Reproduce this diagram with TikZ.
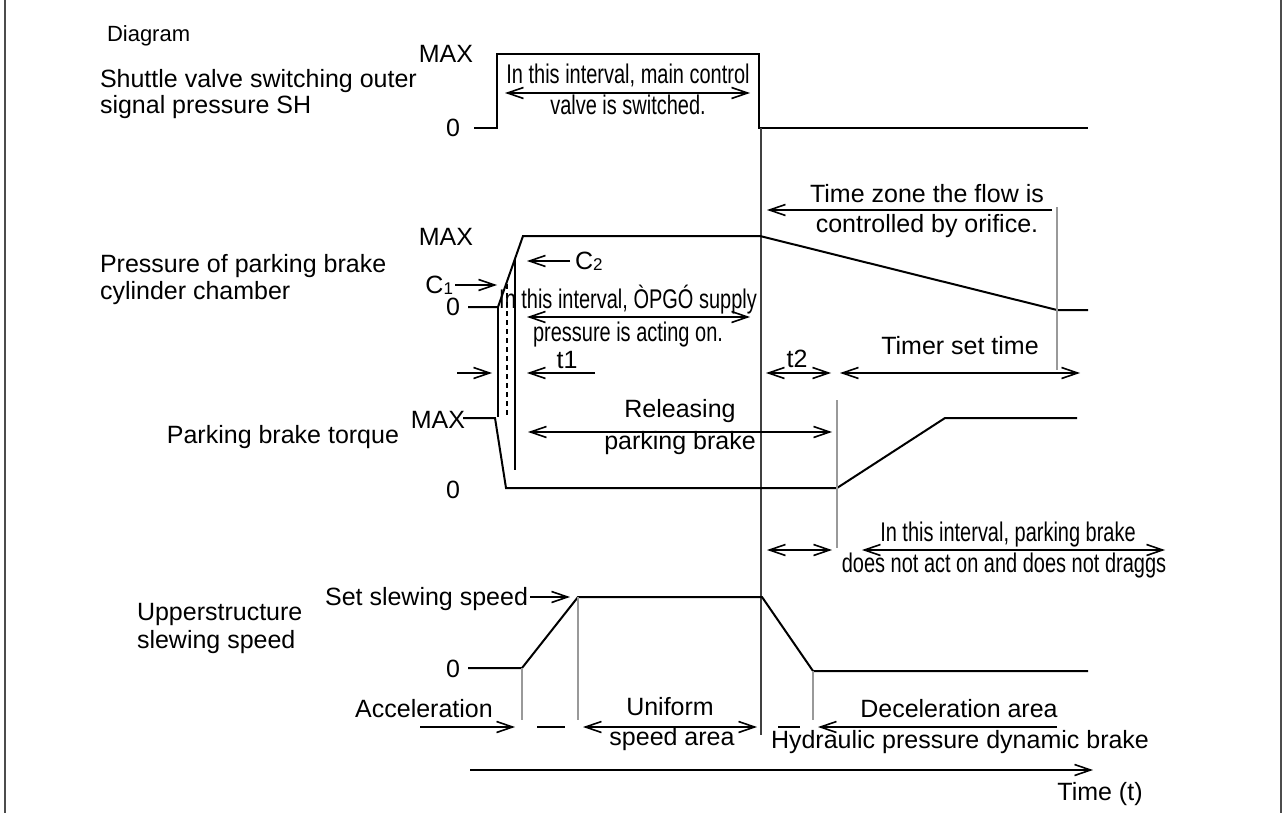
\documentclass[tikz,border=0pt]{standalone}
\usepackage{fontspec}
\setmainfont{Liberation Sans}
\newfontfamily\condensedfont{Liberation Sans}[FakeStretch=0.74]
\usetikzlibrary{arrows.meta}

\newcommand\labelsize{\fontsize{25}{27}\selectfont}
\newcommand\titlesize{\fontsize{22}{24}\selectfont}
\newcommand\condsize{\condensedfont\fontsize{27}{30}\selectfont}
\newcommand\lowidx[1]{{\fontsize{17}{17}\selectfont\raisebox{-1pt}{#1}}}

\begin{document}
\begin{tikzpicture}[x=1pt,y=-1pt,
  every node/.style={inner sep=0pt,outer sep=0pt},
  lab/.style={font=\labelsize},
  cond/.style={font=\condsize},
  trace/.style={line width=2pt,line join=miter},
  guide/.style={line width=1.2pt,draw=black!40},
  mainguide/.style={line width=1.2pt,draw=black!75},
  startline/.style={line width=2pt},
  frame/.style={line width=2pt,draw=black!70},
  >={Straight Barb[length=16pt,width=11pt]},
  sarrow/.style={line width=1.6pt,->},
  darrow/.style={line width=1.6pt,<->},
  seg/.style={line width=1.6pt}]

\useasboundingbox (0,0) rectangle (1284,813);

% page frame
\coordinate (fl1) at (5,0);    \coordinate (fl2) at (5,813);
\coordinate (fr1) at (1281,0); \coordinate (fr2) at (1281,813);
\draw[frame] (fl1) -- (fl2);
\draw[frame] (fr1) -- (fr2);

% ---------- titles and row captions ----------
\node[font=\titlesize,anchor=base west] (title) at (107,42) {Diagram};
\node[lab,anchor=base west] (capA1) at (100,88) {Shuttle valve switching outer};
\node[lab,anchor=base west] (capA2) at (100,114) {signal pressure SH};
\node[lab,anchor=base west] (capB1) at (100,272) {Pressure of parking brake};
\node[lab,anchor=base west] (capB2) at (100,299) {cylinder chamber};
\node[lab,anchor=base east] (capC) at (399,443) {Parking brake torque};
\node[lab,anchor=base west] (capD1) at (137,620) {Upperstructure};
\node[lab,anchor=base west] (capD2) at (137,648) {slewing speed};

% ---------- row 1: shuttle valve signal ----------
\node[lab,anchor=base] (maxA) at (446,63) {MAX};
\node[lab,anchor=base] (zeroA) at (453,137) {0};
\coordinate (a0) at (474,128); \coordinate (a1) at (497,128);
\coordinate (a2) at (497,54);  \coordinate (a3) at (759,54);
\coordinate (a4) at (759,128); \coordinate (a5) at (1088,128);
\draw[trace] (a0) -- (a1) -- (a2) -- (a3) -- (a4) -- (a5);
\node[cond,anchor=base] (mcv1) at (628,84) {In this interval, main control};
\node[cond,anchor=base] (mcv2) at (628,115) {valve is switched.};
\coordinate (mcvL) at (505,93); \coordinate (mcvR) at (750,93);
\draw[darrow] (mcvL) -- (mcvR);

% main time marker
\coordinate (g0t) at (761,128); \coordinate (g0b) at (761,735);
\draw[mainguide] (g0t) -- (g0b);

% ---------- row 2: brake cylinder pressure ----------
\node[lab,anchor=base] (maxB) at (446,245) {MAX};
\node[lab,anchor=base] (zeroB) at (453,315) {0};
\coordinate (b0) at (468,307); \coordinate (b1) at (498,307);
\coordinate (b2) at (523,236); \coordinate (b3) at (760,236);
\coordinate (b4) at (1057,310); \coordinate (b5) at (1088,310);
\draw[trace] (b0) -- (b1) -- (b2) -- (b3) -- (b4) -- (b5);

\node[lab,anchor=base east] (c1) at (453,293) {C\lowidx{1}};
\coordinate (c1a) at (455,285); \coordinate (c1b) at (497,285);
\draw[sarrow] (c1a) -- (c1b);
\node[lab,anchor=base west] (c2) at (575,269) {C\lowidx{2}};
\coordinate (c2a) at (570,261); \coordinate (c2b) at (527,261);
\draw[sarrow] (c2a) -- (c2b);

% start-of-release markers
\coordinate (v1t) at (498,307); \coordinate (v1b) at (498,417);
\coordinate (v2t) at (507,284); \coordinate (v2b) at (507,418);
\coordinate (v3t) at (515,259); \coordinate (v3b) at (515,470);
\draw[startline] (v1t) -- (v1b);
\draw[line width=1.6pt,dash pattern=on 5pt off 4pt] (v2t) -- (v2b);
\draw[startline] (v3t) -- (v3b);

\node[cond,anchor=base] (pg1) at (628,308) {In this interval, ÒPGÓ supply};
\node[cond,anchor=base] (pg2) at (628,341) {pressure is acting on.};
\coordinate (pgL) at (527,317); \coordinate (pgR) at (750,317);
\draw[darrow] (pgL) -- (pgR);

\node[lab,anchor=base] (t1) at (567,368) {t1};
\coordinate (t1a) at (457,373); \coordinate (t1b) at (492,373);
\coordinate (t1c) at (595,373); \coordinate (t1d) at (527,373);
\draw[sarrow] (t1a) -- (t1b);
\draw[sarrow] (t1c) -- (t1d);

\node[lab,anchor=base] (tz1) at (927,202) {Time zone the flow is};
\node[lab,anchor=base] (tz2) at (927,232) {controlled by orifice.};
\coordinate (tza) at (1052,210); \coordinate (tzb) at (767,210);
\draw[sarrow] (tza) -- (tzb);
\coordinate (g4t) at (1057,207); \coordinate (g4b) at (1057,370);
\draw[guide] (g4t) -- (g4b);

\node[lab,anchor=base] (t2) at (797,367) {t2};
\coordinate (t2L) at (766,373); \coordinate (t2R) at (831,373);
\draw[darrow] (t2L) -- (t2R);
\node[lab,anchor=base] (timer) at (960,354) {Timer set time};
\coordinate (tmL) at (840,373); \coordinate (tmR) at (1080,373);
\draw[darrow] (tmL) -- (tmR);

% ---------- row 3: brake torque ----------
\node[lab,anchor=base] (maxC) at (438,428) {MAX};
\node[lab,anchor=base] (zeroC) at (453,498) {0};
\coordinate (d0) at (463,418); \coordinate (d1) at (495,418);
\coordinate (d2) at (506,488); \coordinate (d3) at (837,488);
\coordinate (d4) at (945,418); \coordinate (d5) at (1077,418);
\draw[trace] (d0) -- (d1) -- (d2) -- (d3) -- (d4) -- (d5);
\node[lab,anchor=base] (rel1) at (680,417) {Releasing};
\node[lab,anchor=base] (rel2) at (680,449) {parking brake};
\coordinate (relL) at (528,432); \coordinate (relR) at (832,432);
\draw[darrow] (relL) -- (relR);
\coordinate (g3t) at (837,400); \coordinate (g3b) at (837,548);
\draw[guide] (g3t) -- (g3b);

% ---------- no-drag interval ----------
\node[cond,anchor=base] (nd1) at (1008,541) {In this interval, parking brake};
\node[cond,anchor=base] (nd2) at (1004,572) {does not act on and does not draggs};
\coordinate (ndL) at (862,550); \coordinate (ndR) at (1165,550);
\draw[darrow] (ndL) -- (ndR);
\coordinate (ndsL) at (767,550); \coordinate (ndsR) at (832,550);
\draw[darrow] (ndsL) -- (ndsR);

% ---------- row 4: slewing speed ----------
\node[lab,anchor=base east] (setsp) at (528,605) {Set slewing speed};
\coordinate (ssa) at (530,597); \coordinate (ssb) at (570,597);
\draw[sarrow] (ssa) -- (ssb);
\node[lab,anchor=base] (zeroD) at (453,677) {0};
\coordinate (e0) at (468,668); \coordinate (e1) at (522,668);
\coordinate (e2) at (578,597); \coordinate (e3) at (762,597);
\coordinate (e4) at (813,671); \coordinate (e5) at (1088,671);
\draw[trace] (e0) -- (e1) -- (e2) -- (e3) -- (e4) -- (e5);

\coordinate (g5t) at (522,668); \coordinate (g5b) at (522,720);
\coordinate (g6t) at (578,597); \coordinate (g6b) at (578,720);
\coordinate (g7t) at (813,671); \coordinate (g7b) at (813,720);
\draw[guide] (g5t) -- (g5b);
\draw[guide] (g6t) -- (g6b);
\draw[guide] (g7t) -- (g7b);

% ---------- speed phases ----------
\node[lab,anchor=base] (acc) at (424,717) {Acceleration};
\coordinate (acca) at (420,727); \coordinate (accb) at (515,727);
\draw[sarrow] (acca) -- (accb);
\coordinate (s1a) at (537,727); \coordinate (s1b) at (565,727);
\draw[seg] (s1a) -- (s1b);
\node[lab,anchor=base] (uni1) at (670,715) {Uniform};
\node[lab,anchor=base] (uni2) at (672,745) {speed area};
\coordinate (uniL) at (583,727); \coordinate (uniR) at (757,727);
\draw[darrow] (uniL) -- (uniR);
\coordinate (s2a) at (778,727); \coordinate (s2b) at (800,727);
\draw[seg] (s2a) -- (s2b);
\node[lab,anchor=base] (dec1) at (959,717) {Deceleration area};
\node[lab,anchor=base] (dec2) at (960,748) {Hydraulic pressure dynamic brake};
\coordinate (deca) at (1057,727); \coordinate (decb) at (818,727);
\draw[sarrow] (deca) -- (decb);

% ---------- time axis ----------
\coordinate (ta) at (470,770); \coordinate (tb) at (1093,770);
\draw[sarrow] (ta) -- (tb);
\node[lab,anchor=base] (tlab) at (1100,800) {Time (t)};

\end{tikzpicture}
\end{document}
